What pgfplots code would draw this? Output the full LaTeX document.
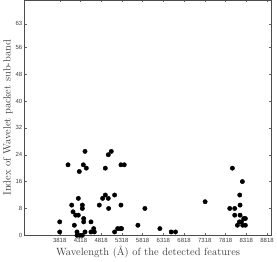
\documentclass[border=0pt]{standalone}
\usepackage{pgfplots}
\pgfplotsset{compat=1.18}
\usepackage{fontspec}
\newfontfamily\ticksans{Liberation Sans}
\begin{document}
\begin{tikzpicture}
\begin{axis}[
  scale only axis,
  width=247pt, height=235.5pt,
  xmin=2976, xmax=8921,
  ymin=0, ymax=70,
  xtick={3818,4318,4818,5318,5818,6318,6818,7318,7818,8318,8818},
  ytick={0,8,16,24,32,40,48,56,63},
  xticklabel style={font=\ticksans\fontsize{6}{7}\selectfont, text=black!75},
  yticklabel style={font=\ticksans\fontsize{6}{7}\selectfont, text=black!75},
  /pgf/number format/assume math mode=true,
  xticklabel={\pgfmathprintnumber[fixed,1000 sep={}]{\tick}},
  scaled ticks=false,
  tick align=inside,
  major tick length=2pt,
  tick style={black!60, line width=0.4pt},
  axis line style={black!70, line width=0.6pt},
  xlabel={Wavelength (Å) of the detected features},
  ylabel={Index of Wavelet packet sub-band},
  label style={font=\fontsize{10.5}{12}\selectfont, text=black!75},
  xlabel style={yshift=3pt},
  ylabel style={yshift=-4pt},
  xticklabel shift=-1pt,
  yticklabel shift=-1pt,
]
\addplot[only marks, mark=*, mark size=2.2pt, black] coordinates {
(3818,1) (3818,4) (4019,21) (4107,9) (4139,7) (4171,3) (4203,6) (4267,6)
(4267,11) (4291,19) (4235,1) (4235,0) (4299,0) (4364,0) (4364,9) (4364,8)
(4388,21) (4396,5) (4396,4) (4428,25) (4460,20) (4428,1) (4572,4) (4572,1)
(4637,2) (4653,1) (4773,9) (4853,11) (4918,12) (4918,20) (4990,11) (4990,24)
(4998,8) (5062,25) (5142,12) (5142,1) (5215,2) (5279,2) (5295,9) (5295,21)
(5375,21) (5311,2) (5704,3) (5873,8) (6234,2) (6507,1) (6611,1) (7325,10)
(7919,8) (7983,20) (8039,8) (8039,6) (8104,3) (8160,12) (8168,9) (8168,6)
(8152,4) (8224,16) (8256,5) (8296,5) (8232,3) (8296,3) (8200,4)
};
\end{axis}
\end{tikzpicture}
\end{document}
